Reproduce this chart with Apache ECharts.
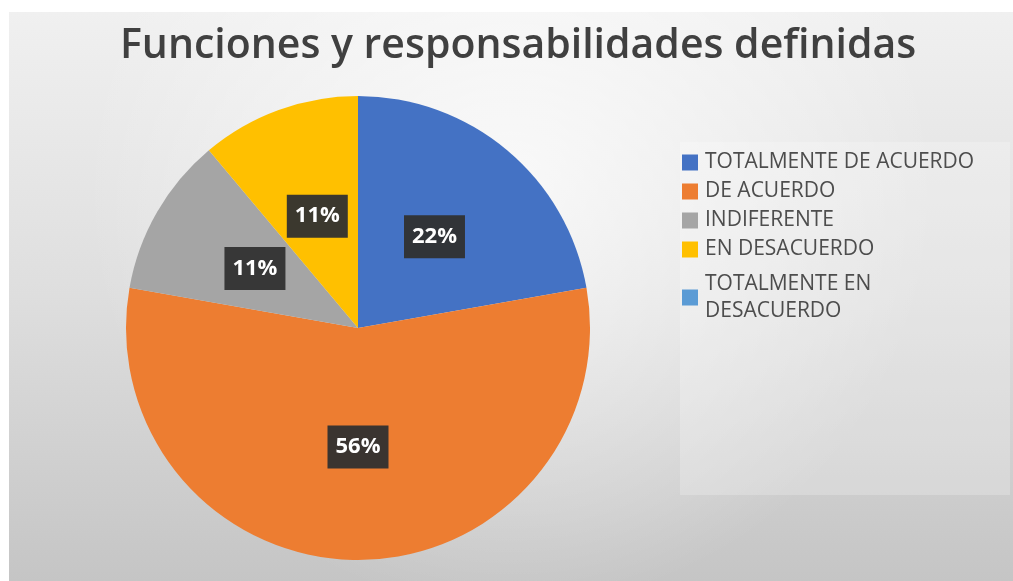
<!DOCTYPE html>
<html>
<head>
<meta charset="utf-8">
<script src="https://cdn.jsdelivr.net/npm/echarts@6/dist/echarts.min.js"></script>
<style>
  html, body { margin: 0; padding: 0; background: #ffffff; }
  #chart { position: absolute; left: 9px; top: 12px; width: 1004px; height: 569px; }
</style>
</head>
<body>
<div id="chart"></div>
<script>
// Survey answers: "Funciones y responsabilidades definidas"
const categories = [
  'TOTALMENTE DE ACUERDO',
  'DE ACUERDO',
  'INDIFERENTE',
  'EN DESACUERDO',
  'TOTALMENTE EN DESACUERDO'
];
const responses = [2, 5, 1, 1, 0];
const sliceColors = ['#4472C4', '#ED7D31', '#A5A5A5', '#FFC000', '#5B9BD5'];
const chartTitle = 'Funciones y responsabilidades definidas';

const pieData = categories.map((name, i) => ({
  name: name,
  value: responses[i],
  itemStyle: { color: sliceColors[i] },
  label: { show: responses[i] > 0 }
}));

// Long legend entries wrap onto two lines
const wrapped = { 'TOTALMENTE EN DESACUERDO': 'TOTALMENTE EN\nDESACUERDO' };
const legendData = categories.map(name => wrapped[name]
  ? { name: name, textStyle: { lineHeight: 27, padding: [13, 0, 0, 2] } }
  : { name: name });

const chart = echarts.init(document.getElementById('chart'), null, { renderer: 'canvas' });

chart.setOption({
  animation: false,
  backgroundColor: {
    type: 'linear', x: 0, y: 0, x2: 0, y2: 1,
    colorStops: [
      { offset: 0, color: '#f0f0f0' },
      { offset: 0.5, color: '#dedede' },
      { offset: 1, color: '#c5c5c5' }
    ]
  },
  title: {
    text: chartTitle,
    left: 106,
    top: 9,
    textStyle: {
      fontFamily: 'Open Sans',
      fontWeight: 600,
      fontSize: 41,
      color: '#404040'
    }
  },
  graphic: [
    {
      type: 'rect',
      left: 0, top: 0,
      shape: { width: 1004, height: 569 },
      style: {
        fill: {
          type: 'radial', x: 0.5, y: 0.3, r: 0.75,
          colorStops: [
            { offset: 0, color: 'rgba(255,255,255,0.75)' },
            { offset: 1, color: 'rgba(255,255,255,0)' }
          ]
        }
      },
      silent: true,
      z: -10
    },
    {
      type: 'rect',
      left: 671, top: 130,
      shape: { width: 330, height: 353 },
      style: { fill: 'rgba(255,255,255,0.22)' },
      silent: true,
      z: -5
    }
  ],
  legend: {
    orient: 'vertical',
    left: 673,
    top: 136,
    padding: 0,
    icon: 'rect',
    itemWidth: 16,
    itemHeight: 16,
    itemGap: 0,
    selectedMode: false,
    textStyle: {
      fontFamily: 'Open Sans',
      fontSize: 21,
      color: '#4d4d4d',
      lineHeight: 29,
      padding: [0, 0, 0, 2]
    },
    formatter: name => wrapped[name] || name,
    data: legendData
  },
  series: [{
    type: 'pie',
    center: [349, 316],
    radius: 232,
    startAngle: 90,
    clockwise: true,
    avoidLabelOverlap: false,
    data: pieData,
    itemStyle: { borderWidth: 0 },
    label: {
      position: 'inside',
      formatter: p => Math.round(p.percent) + '%',
      fontFamily: 'Open Sans',
      fontWeight: 'bold',
      fontSize: 22,
      color: '#ffffff',
      backgroundColor: 'rgba(48,48,48,0.95)',
      padding: [11, 8, 10, 8]
    },
    labelLine: { show: false },
    emphasis: { disabled: true }
  }]
});
</script>
</body>
</html>
